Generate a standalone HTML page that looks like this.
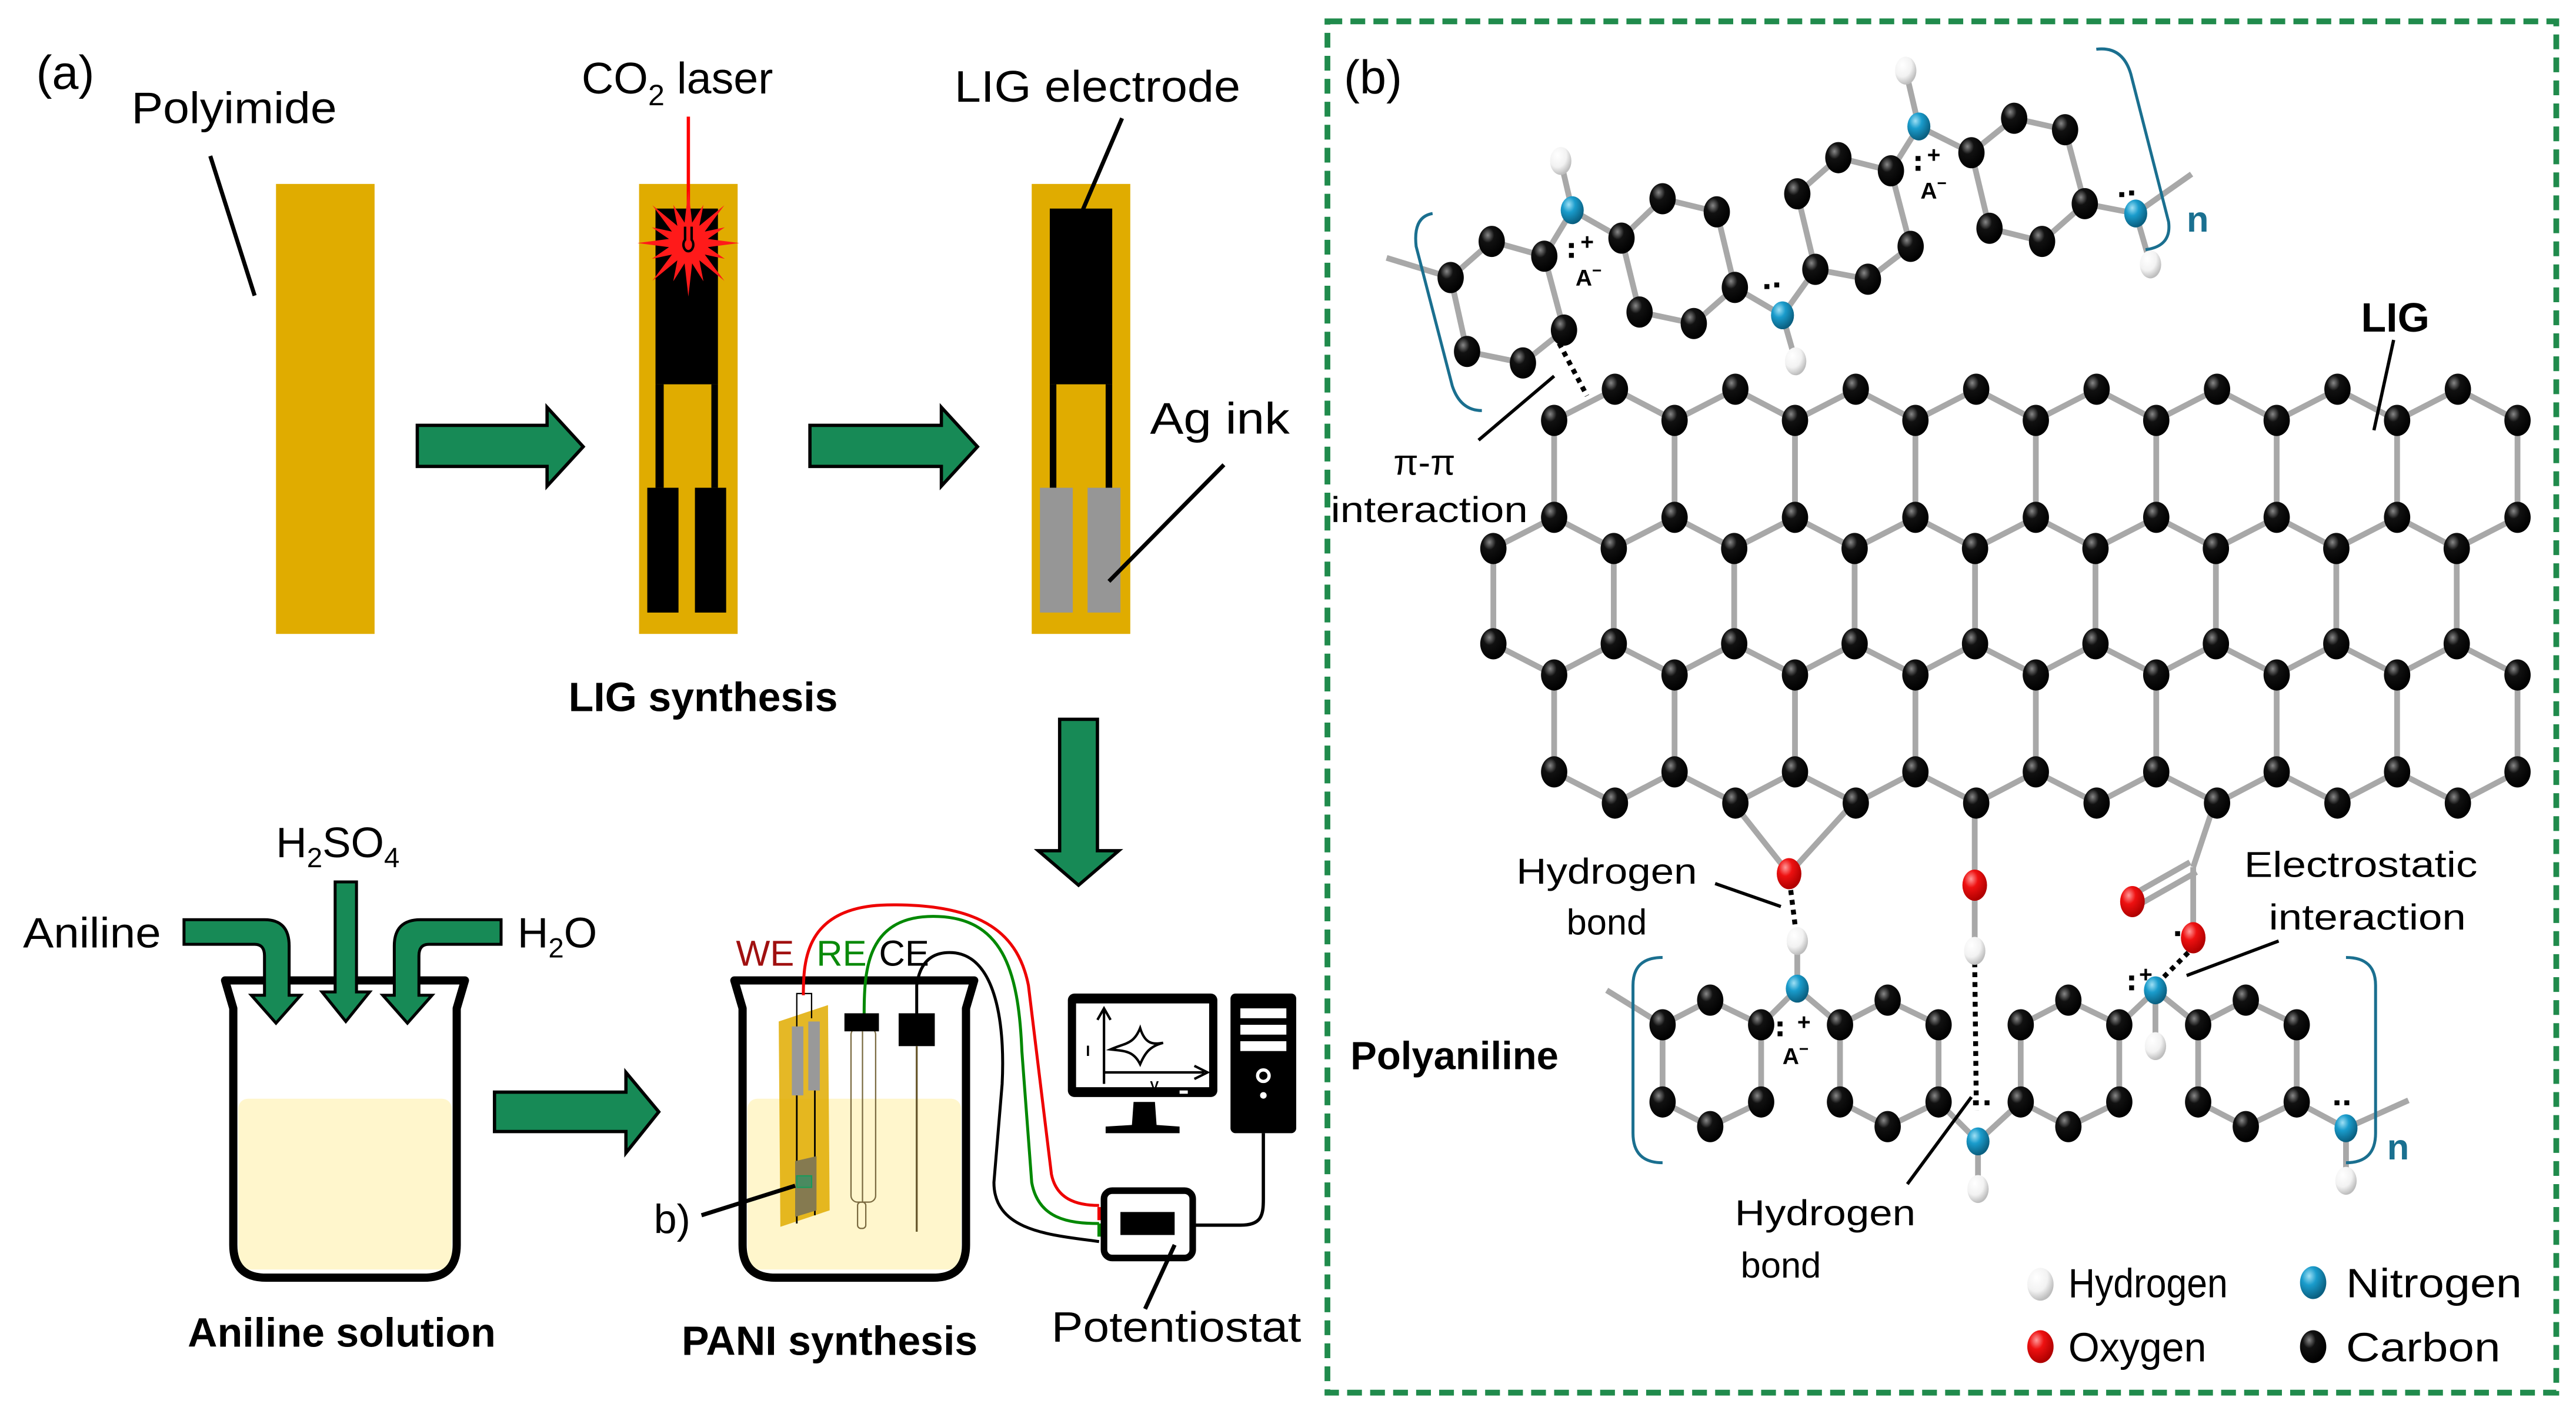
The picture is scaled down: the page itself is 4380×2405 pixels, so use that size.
<!DOCTYPE html>
<html><head><meta charset="utf-8"><style>
html,body{margin:0;padding:0;background:#fff;}
svg{display:block;}
text{font-family:"Liberation Sans",Arial,sans-serif;}
</style></head><body>
<svg id="s" xmlns="http://www.w3.org/2000/svg" width="4380" height="2405" viewBox="0 0 1568 861" preserveAspectRatio="none">
<defs>
<radialGradient id="gC" cx="0.35" cy="0.3" r="0.7"><stop offset="0" stop-color="#888"/><stop offset="0.35" stop-color="#111"/><stop offset="1" stop-color="#000"/></radialGradient>
<radialGradient id="gN" cx="0.35" cy="0.3" r="0.7"><stop offset="0" stop-color="#9fe0f5"/><stop offset="0.4" stop-color="#1a9ccc"/><stop offset="1" stop-color="#0a5f80"/></radialGradient>
<radialGradient id="gO" cx="0.35" cy="0.3" r="0.7"><stop offset="0" stop-color="#ff9a9a"/><stop offset="0.4" stop-color="#ee1111"/><stop offset="1" stop-color="#b00000"/></radialGradient>
<radialGradient id="gH" cx="0.35" cy="0.3" r="0.7"><stop offset="0" stop-color="#fff"/><stop offset="0.6" stop-color="#f2f2f2"/><stop offset="1" stop-color="#bdbdbd"/></radialGradient>
</defs>

<!-- ===== Panel (a) ===== -->
<text x="22" y="54" font-size="29">(a)</text>
<text x="80" y="75" font-size="27" textLength="125" lengthAdjust="spacingAndGlyphs">Polyimide</text>
<line x1="128" y1="95" x2="155" y2="180" stroke="#000" stroke-width="2.5"/>
<rect x="168" y="112" width="60" height="274" fill="#E0AC00"/>

<path d="M254,259 H333 V248 L355,272 L333,296 V284 H254 Z" fill="#178A56" stroke="#000" stroke-width="2"/>

<rect x="389" y="112" width="60" height="274" fill="#E0AC00"/>
<rect x="399" y="127" width="38" height="107" fill="#000"/>
<rect x="399" y="234" width="5" height="63" fill="#000"/>
<rect x="433" y="234" width="4" height="63" fill="#000"/>
<rect x="394" y="297" width="19" height="76" fill="#000"/>
<rect x="423" y="297" width="19" height="76" fill="#000"/>
<line x1="419" y1="71" x2="419" y2="145" stroke="#f00" stroke-width="2"/>
<polygon id="star" fill="#ff1a1a" points=""/>
<path d="M417,138 V146 A3,4 0 1 0 421,146 V138" fill="none" stroke="#000" stroke-width="1.5"/>
<text x="354" y="57" font-size="27">CO<tspan font-size="18" dy="7">2</tspan><tspan dy="-7"> laser</tspan></text>

<path d="M493,259 H573 V248 L595,272 L573,296 V284 H493 Z" fill="#178A56" stroke="#000" stroke-width="2"/>

<rect x="628" y="112" width="60" height="274" fill="#E0AC00"/>
<rect x="639" y="127" width="38" height="107" fill="#000"/>
<rect x="639" y="234" width="4" height="63" fill="#000"/>
<rect x="673" y="234" width="4" height="63" fill="#000"/>
<rect x="633" y="297" width="20" height="76" fill="#969696"/>
<rect x="662" y="297" width="20" height="76" fill="#969696"/>
<text x="581" y="62" font-size="27" textLength="174" lengthAdjust="spacingAndGlyphs">LIG electrode</text>
<line x1="683" y1="72" x2="659" y2="128" stroke="#000" stroke-width="2.5"/>
<text x="700" y="264" font-size="27" textLength="85" lengthAdjust="spacingAndGlyphs">Ag ink</text>
<line x1="745" y1="283" x2="675" y2="354" stroke="#000" stroke-width="2.5"/>
<text x="428" y="433" font-size="25" font-weight="bold" text-anchor="middle">LIG synthesis</text>

<path d="M645,438 H668 V518 H681 L656.5,539 L632,518 H645 Z" fill="#178A56" stroke="#000" stroke-width="2"/>

<rect x="145" y="669" width="130" height="104" rx="6" fill="#FFF6CC"/>
<path d="M137,597 H283 L278,614 V758 Q278,778 258,778 H162 Q142,778 142,758 V614 Z" fill="none" stroke="#000" stroke-width="5" stroke-linejoin="round"/>
<path d="M112,560 H161 Q176,560 176,576 V606 H183 L168,623 L153,606 H161 V582 Q161,575 155,575 H112 Z" fill="#178A56" stroke="#000" stroke-width="1.8"/>
<path d="M204,537 H217 V604 H225 L210.5,622 L196,604 H204 Z" fill="#178A56" stroke="#000" stroke-width="1.8"/>
<path d="M305,560 H256 Q240,560 240,576 V606 H233 L248,623 L263,606 H255 V582 Q255,575 261,575 H305 Z" fill="#178A56" stroke="#000" stroke-width="1.8"/>
<text x="14" y="577" font-size="26" textLength="84" lengthAdjust="spacingAndGlyphs">Aniline</text>
<text x="168" y="522" font-size="26">H<tspan font-size="17" dy="6">2</tspan><tspan dy="-6">SO</tspan><tspan font-size="17" dy="6">4</tspan></text>
<text x="315" y="577" font-size="26">H<tspan font-size="17" dy="6">2</tspan><tspan dy="-6">O</tspan></text>
<text x="208" y="820" font-size="25" font-weight="bold" text-anchor="middle">Aniline solution</text>

<path d="M301,665 H381 V653 L401,677 L381,702 V689 H301 Z" fill="#178A56" stroke="#000" stroke-width="2"/>

<rect x="455" y="669" width="130" height="104" rx="6" fill="#FFF6CC"/>
<polygon points="474,622 504,612 505,737 475,747" fill="#E0AC00" opacity="0.85"/>
<rect x="482" y="625" width="7" height="42" fill="#999"/>
<rect x="492" y="622" width="7" height="42" fill="#999"/>
<line x1="485" y1="667" x2="485" y2="745" stroke="#000" stroke-width="1"/>
<line x1="496" y1="664" x2="496" y2="740" stroke="#000" stroke-width="1"/>
<polygon points="484,707 497,704 497,737 484,741" fill="#857A50"/>
<rect x="485" y="716" width="9" height="7" fill="#4a8a60" stroke="#1a9a5a" stroke-width="0.8"/>
<path d="M485,625 V605 H494 V620" fill="none" stroke="#000" stroke-width="0.8"/>
<rect x="518" y="626" width="15" height="106" rx="4" fill="none" stroke="#7a6a40" stroke-width="0.8"/>
<line x1="525" y1="628" x2="525" y2="732" stroke="#7a6a40" stroke-width="0.8"/>
<rect x="522" y="732" width="5" height="16" rx="2" fill="none" stroke="#7a6a40" stroke-width="0.8"/>
<rect x="514" y="617" width="21" height="11" fill="#000"/>
<rect x="547" y="617" width="22" height="20" fill="#000"/>
<line x1="558" y1="637" x2="558" y2="750" stroke="#6a5a30" stroke-width="1.2"/>
<path d="M447,597 H593 L588,614 V758 Q588,778 568,778 H472 Q452,778 452,758 V614 Z" fill="none" stroke="#000" stroke-width="5" stroke-linejoin="round"/>
<path d="M489,606 C489,585 490,552 540,551 C600,550 620,570 626,600 L640,715 C643,730 655,734 669,734" fill="none" stroke="#e00" stroke-width="1.8"/>
<path d="M526,617 C526,590 528,558 568,558 C610,558 620,590 622,640 L628,720 C632,742 650,745 669,745" fill="none" stroke="#080" stroke-width="1.8"/>
<path d="M558,617 V600 C560,585 568,580 578,580 C605,580 612,620 610,660 L605,720 C605,750 640,752 669,756" fill="none" stroke="#000" stroke-width="1.8"/>
<text x="448" y="588" font-size="22" fill="#A01010">WE</text>
<text x="497" y="588" font-size="22" fill="#0a8a0a">RE</text>
<text x="535" y="588" font-size="22">CE</text>
<rect x="668" y="735" width="5" height="8" fill="#e00"/>
<rect x="668" y="745" width="5" height="8" fill="#080"/>
<rect x="672" y="725" width="54" height="41" rx="5" fill="#fff" stroke="#000" stroke-width="4"/>
<rect x="682" y="738" width="33" height="14" fill="#000"/>
<path d="M726,746 H755 C768,746 769,740 769,730 V690" fill="none" stroke="#000" stroke-width="2"/>
<rect x="650" y="605" width="91" height="63" rx="4" fill="#000"/>
<rect x="655" y="611" width="81" height="51" fill="#fff"/>
<path d="M672,660 V615 M668,621 L672,614 L676,621 M672,653 H733 M727,649 L735,653 L727,657" fill="none" stroke="#000" stroke-width="1.5"/>
<path d="M676,639 C685,635 690,636 694,626 C697,636 702,636 708,635 C700,637 697,641 694,648 C690,640 685,640 676,639 Z" fill="none" stroke="#000" stroke-width="1.5"/>
<text x="661" y="643" font-size="9" font-weight="bold">I</text>
<text x="700" y="664" font-size="8" font-weight="bold">V</text>
<rect x="718" y="664" width="5" height="2" fill="#fff"/>
<polygon points="690,671 703,671 704,685 718,686 718,690 673,690 673,686 689,685" fill="#000"/>
<rect x="749" y="605" width="40" height="85" rx="3" fill="#000"/>
<rect x="755" y="614" width="28" height="6" fill="#fff"/>
<rect x="755" y="624" width="28" height="6" fill="#fff"/>
<rect x="755" y="634" width="28" height="6" fill="#fff"/>
<circle cx="769" cy="655" r="3.5" fill="none" stroke="#fff" stroke-width="2"/>
<circle cx="769" cy="667" r="2" fill="#fff"/>
<text x="398" y="751" font-size="25">b)</text>
<line x1="427" y1="740" x2="484" y2="722" stroke="#000" stroke-width="2.5"/>
<text x="505" y="825" font-size="25" font-weight="bold" text-anchor="middle">PANI synthesis</text>
<text x="640" y="817" font-size="26" textLength="152" lengthAdjust="spacingAndGlyphs">Potentiostat</text>
<line x1="715" y1="758" x2="697" y2="797" stroke="#000" stroke-width="2.5"/>

<!-- ===== Panel (b) ===== -->
<rect x="808" y="13" width="748" height="835" fill="none" stroke="#208B4C" stroke-width="3.5" stroke-dasharray="9,5"/>
<text x="818" y="57" font-size="29">(b)</text>
<g id="bonds" stroke="#A8A8A8" stroke-width="3.5" fill="none"></g>
<g id="dots" stroke="#000" stroke-width="3" stroke-dasharray="3,3" fill="none">
  <line x1="949" y1="209" x2="966" y2="241"/>
  <line x1="1090" y1="542" x2="1093" y2="566"/>
  <line x1="1202" y1="586" x2="1203" y2="676"/>
  <line x1="1332" y1="580" x2="1316" y2="596"/>
</g>
<g id="atoms"></g>
<g stroke="#1A6F8F" stroke-width="1.8" fill="none">
<path d="M872,130 Q860,132 862,150 L884,235 Q889,250 902,250"/>
<path d="M1276,30 Q1292,28 1297,45 L1320,135 Q1322,150 1306,152"/>
<path d="M1012,583 Q994,583 994,600 V690 Q994,708 1012,708"/>
<path d="M1428,583 Q1446,583 1446,600 V690 Q1446,708 1428,708"/>
</g>
<text x="1331" y="141" font-size="22" font-weight="bold" fill="#1A7090">n</text>
<text x="1453" y="706" font-size="22" font-weight="bold" fill="#1A7090">n</text>
<g font-size="14" font-weight="bold">
<text x="959" y="174">A<tspan font-size="10" dy="-6">−</tspan></text>
<text x="1169" y="121">A<tspan font-size="10" dy="-6">−</tspan></text>
<text x="1085" y="648">A<tspan font-size="10" dy="-6">−</tspan></text>
<text x="962" y="152">+</text><text x="1173" y="99">+</text><text x="1094" y="627">+</text><text x="1302" y="598">+</text>
</g>
<g fill="#000">
<rect x="955" y="148" width="3" height="3"/><rect x="955" y="154" width="3" height="3"/>
<rect x="1166" y="95" width="3" height="3"/><rect x="1166" y="101" width="3" height="3"/>
<rect x="1082" y="622" width="3" height="3"/><rect x="1082" y="628" width="3" height="3"/>
<rect x="1296" y="594" width="3" height="3"/><rect x="1296" y="600" width="3" height="3"/>
<rect x="1074" y="173" width="3" height="3"/><rect x="1080" y="172" width="3" height="3"/>
<rect x="1290" y="117" width="3" height="3"/><rect x="1296" y="116" width="3" height="3"/>
<rect x="1201" y="670" width="3" height="3"/><rect x="1208" y="670" width="3" height="3"/>
<rect x="1421" y="670" width="3" height="3"/><rect x="1427" y="670" width="3" height="3"/>
<rect x="1324" y="567" width="3" height="3"/>
</g>
<text x="1458" y="202" font-size="25" font-weight="bold" text-anchor="middle">LIG</text>
<line x1="1457" y1="207" x2="1445" y2="262" stroke="#000" stroke-width="2"/>
<text x="867" y="289" font-size="22" text-anchor="middle">π-π</text>
<text x="870" y="318" font-size="22" text-anchor="middle" textLength="120" lengthAdjust="spacingAndGlyphs">interaction</text>
<line x1="900" y1="268" x2="946" y2="229" stroke="#000" stroke-width="2"/>
<text x="978" y="538" font-size="22" text-anchor="middle" textLength="110" lengthAdjust="spacingAndGlyphs">Hydrogen</text>
<text x="978" y="569" font-size="22" text-anchor="middle">bond</text>
<line x1="1044" y1="538" x2="1084" y2="552" stroke="#000" stroke-width="2"/>
<text x="1437" y="534" font-size="22" text-anchor="middle" textLength="142" lengthAdjust="spacingAndGlyphs">Electrostatic</text>
<text x="1441" y="566" font-size="22" text-anchor="middle" textLength="120" lengthAdjust="spacingAndGlyphs">interaction</text>
<line x1="1387" y1="573" x2="1331" y2="594" stroke="#000" stroke-width="2"/>
<text x="1111" y="746" font-size="22" text-anchor="middle" textLength="110" lengthAdjust="spacingAndGlyphs">Hydrogen</text>
<text x="1084" y="778" font-size="22" text-anchor="middle">bond</text>
<line x1="1161" y1="721" x2="1200" y2="668" stroke="#000" stroke-width="2"/>
<text x="822" y="651" font-size="24" font-weight="bold">Polyaniline</text>
<ellipse cx="1242" cy="782" rx="8" ry="10" fill="url(#gH)"/>
<ellipse cx="1408" cy="781" rx="8" ry="10" fill="url(#gN)"/>
<ellipse cx="1242" cy="820" rx="8" ry="10" fill="url(#gO)"/>
<ellipse cx="1408" cy="820" rx="8" ry="10" fill="url(#gC)"/>
<text x="1259" y="790" font-size="25" textLength="97" lengthAdjust="spacingAndGlyphs">Hydrogen</text>
<text x="1428" y="790" font-size="25" textLength="107" lengthAdjust="spacingAndGlyphs">Nitrogen</text>
<text x="1259" y="829" font-size="25" textLength="84" lengthAdjust="spacingAndGlyphs">Oxygen</text>
<text x="1428" y="829" font-size="25" textLength="94" lengthAdjust="spacingAndGlyphs">Carbon</text>
</svg>
<script>
(function(){
var NS="http://www.w3.org/2000/svg";
var B=document.getElementById("bonds"),A=document.getElementById("atoms");
function bond(a,b){var l=document.createElementNS(NS,"line");l.setAttribute("x1",a[0]);l.setAttribute("y1",a[1]);l.setAttribute("x2",b[0]);l.setAttribute("y2",b[1]);B.appendChild(l);}
function atom(p,t){var e=document.createElementNS(NS,"ellipse");e.setAttribute("cx",p[0]);e.setAttribute("cy",p[1]);
var r={C:[8,9.5],N:[7,8.5],O:[7.5,9.5],H:[6.5,8.5]}[t];e.setAttribute("rx",r[0]);e.setAttribute("ry",r[1]);e.setAttribute("fill","url(#g"+t+")");A.appendChild(e);}
var pts=[],cx=419,cy=148,n=16;for(var i=0;i<2*n;i++){var ang=i*Math.PI/n,r=(i%2==0)?(i%4==0?31:24):12;pts.push((cx+r*Math.sin(ang)).toFixed(1)+","+(cy-r*Math.cos(ang)*1.05).toFixed(1));}
document.getElementById("star").setAttribute("points",pts.join(" "));
var dx=73.3,rows=[[983,237,8],[946,256,9],[946,315,9],[909,334,9],[909,392,9],[946,411,9],[946,470,9],[983,489,8]];
var R=rows.map(function(r){var a=[];for(var i=0;i<r[2];i++)a.push([r[0]+i*dx,r[1]]);return a;});
function zig(u,v){u.forEach(function(p){v.forEach(function(q){if(Math.abs(p[0]-q[0])<40)bond(p,q);});});}
zig(R[0],R[1]);
R[1].forEach(function(p,i){bond(p,R[2][i]);});
zig(R[2],R[3]);
R[3].forEach(function(p,i){bond(p,R[4][i]);});
zig(R[4],R[5]);
R[5].forEach(function(p,i){bond(p,R[6][i]);});
zig(R[6],R[7]);
var O1=[1089,532],O2=[1202,539],H2=[1202,579],Cb=[1335,528],O3=[1298,549],O4=[1335,571];
bond([1055,489],O1);bond([1128,489],O1);bond([1202,489],O2);bond(O2,H2);
bond([1348,489],Cb);bond(Cb,O4);bond([Cb[0]-2,Cb[1]-3],[O3[0]-2,O3[1]-3]);bond([Cb[0]+2,Cb[1]+3],[O3[0]+2,O3[1]+3]);
function ring(pts){for(var i=0;i<6;i++)bond(pts[i],pts[(i+1)%6]);}
var rA=[[908,147],[940,156],[952,201],[927,221],[893,214],[883,169]];
var rB=[[987,145],[1012,121],[1045,129],[1056,175],[1031,197],[998,190]];
var rC=[[1105,164],[1137,170],[1163,150],[1151,104],[1119,96],[1094,118]];
var rD=[[1200,93],[1226,72],[1257,79],[1269,124],[1243,147],[1211,139]];
[rA,rB,rC,rD].forEach(ring);
var NA=[957,128],HA=[950,98],NB=[1085,192],HB=[1093,220],NC=[1168,77],HC=[1160,43],ND=[1300,130],HD=[1309,161];
bond([844,157],rA[5]);bond(rA[1],NA);bond(NA,rB[0]);bond(NA,HA);
bond(rB[3],NB);bond(NB,rC[0]);bond(NB,HB);
bond(rC[3],NC);bond(NC,rD[0]);bond(NC,HC);
bond(rD[3],ND);bond(ND,HD);bond(ND,[1334,106]);
function hring(x0){return [[x0,624],[x0+29,609],[x0+60,624],[x0+60,671],[x0+29,686],[x0,671]];}
var r1=hring(1012),r2=hring(1120),r3=hring(1230),r4=hring(1338);
[r1,r2,r3,r4].forEach(ring);
var N1=[1094,602],H1=[1094,573],N2=[1204,695],H2b=[1204,724],N3=[1312,603],H3=[1312,637],N4=[1428,687],H4=[1428,719];
bond([978,603],r1[0]);bond(r1[2],N1);bond(N1,r2[0]);bond(N1,H1);
bond(r2[3],N2);bond(N2,r3[5]);bond(N2,H2b);
bond(r3[2],N3);bond(N3,r4[0]);bond(N3,H3);
bond(r4[3],N4);bond(N4,H4);bond(N4,[1466,670]);
R.forEach(function(r){r.forEach(function(p){atom(p,"C");});});
[rA,rB,rC,rD,r1,r2,r3,r4].forEach(function(r){r.forEach(function(p){atom(p,"C");});});
[NA,NB,NC,ND,N1,N2,N3,N4].forEach(function(p){atom(p,"N");});
[HA,HB,HC,HD,H1,H2b,H3,H4,H2].forEach(function(p){atom(p,"H");});
[O1,O2,O3,O4].forEach(function(p){atom(p,"O");});
})();
</script>
</body></html>
